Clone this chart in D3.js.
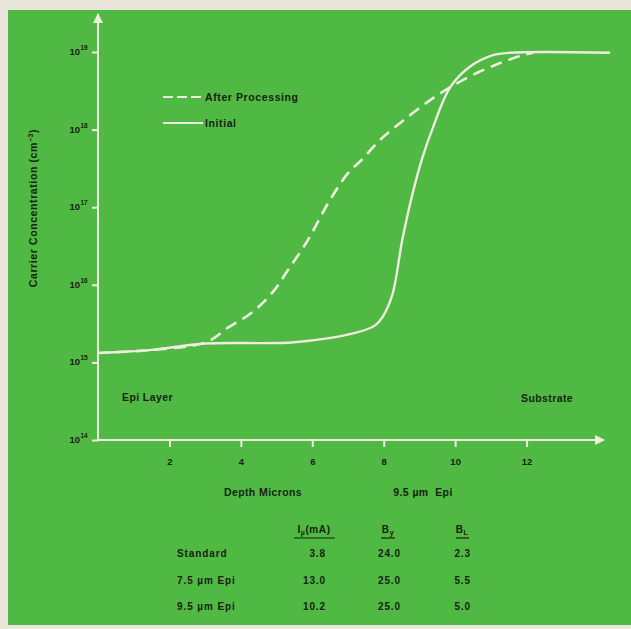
<!DOCTYPE html>
<html><head><meta charset="utf-8">
<script src="https://cdn.jsdelivr.net/npm/d3@7"></script>
<style>body{margin:0;background:#ebe6dc;}svg{display:block;}text{font-family:"Liberation Sans",Arial,sans-serif;fill:#18220f;}</style>
</head><body>
<svg id="c" width="631" height="629"></svg>
<script>
// ---- data ----
const initialDepth = [0, 1.5, 3.0, 5.5, 7.2, 7.76, 7.96, 8.24, 8.52, 8.8, 9.08, 9.38, 9.86, 10.42, 11.06, 11.54, 14.34];
const initialConc  = [1.32e15, 1.45e15, 1.75e15, 1.82e15, 2.4e15, 3.0e15, 3.8e15, 7.4e15, 3.8e16, 1.45e17, 4.3e17, 1.07e18, 3.5e18, 6.5e18, 9.1e18, 9.8e18, 9.8e18];
const afterDepth = [0, 1.5, 3.0, 3.64, 4.31, 4.87, 5.32, 5.88, 6.44, 7.0, 7.39, 7.9, 8.54, 9.3, 9.94, 10.62, 11.26, 11.82, 12.18];
const afterConc  = [1.32e15, 1.45e15, 1.8e15, 2.8e15, 4.4e15, 7.8e15, 1.55e16, 3.8e16, 1.12e17, 2.75e17, 4.1e17, 7.4e17, 1.3e18, 2.4e18, 3.7e18, 5.4e18, 7.2e18, 8.9e18, 9.8e18];
const xTicks = [2, 4, 6, 8, 10, 12];
const yTickExps = [14, 15, 16, 17, 18, 19];
const legendLabels = ["After Processing", "Initial"];
const tableRows = ["Standard", "7.5 \u00b5m Epi", "9.5 \u00b5m Epi"];
const colI = ["3.8", "13.0", "10.2"];
const colBy = ["24.0", "25.0", "25.0"];
const colBL = ["2.3", "5.5", "5.0"];

const svg = d3.select("#c");
const green = "#4fb944";
const lineCol = "#eeebdf";
const ink = "#18220f";

svg.append("rect").attr("x", 8).attr("y", 10).attr("width", 623).attr("height", 615).attr("fill", green);

const x = d3.scaleLinear().domain([0, 14]).range([98, 598]);
const y = d3.scaleLog().domain([1e14, 1e19]).range([440, 52]);

const defs = svg.append("defs");
defs.append("marker").attr("id", "arr").attr("viewBox", "0 0 10 10").attr("refX", 9).attr("refY", 5)
  .attr("markerWidth", 5).attr("markerHeight", 5).attr("orient", "auto")
  .append("path").attr("d", "M0,0L10,5L0,10z").attr("fill", lineCol);

svg.append("line").attr("x1", 98).attr("y1", 440).attr("x2", 98).attr("y2", 14)
  .attr("stroke", lineCol).attr("stroke-width", 2).attr("marker-end", "url(#arr)");
svg.append("line").attr("x1", 97).attr("y1", 440).attr("x2", 604).attr("y2", 440)
  .attr("stroke", lineCol).attr("stroke-width", 2).attr("marker-end", "url(#arr)");

// x axis ticks
const xAxis = d3.axisBottom(x).tickValues(xTicks).tickSize(7).tickPadding(11).tickFormat(d3.format("d"));
const gx = svg.append("g").attr("transform", "translate(0,440)").call(xAxis);
gx.select(".domain").remove();
gx.selectAll(".tick line").attr("stroke", lineCol).attr("stroke-width", 2);
gx.selectAll(".tick text").attr("font-size", 9.5).attr("font-weight", "bold").attr("fill", ink)
  .attr("font-family", "Liberation Sans, Arial, sans-serif");

// y axis ticks
const yAxis = d3.axisLeft(y).tickValues(yTickExps.map(e => Math.pow(10, e))).tickSize(6).tickFormat("");
const gy = svg.append("g").attr("transform", "translate(98,0)").call(yAxis);
gy.select(".domain").remove();
gy.selectAll(".tick line").attr("stroke", lineCol).attr("stroke-width", 2);
yTickExps.forEach(e => {
  svg.append("text").attr("x", 80).attr("y", y(Math.pow(10, e)) + 3)
    .attr("text-anchor", "end").attr("font-size", 9.5).attr("font-weight", "bold").text("10");
  svg.append("text").attr("x", 80.5).attr("y", y(Math.pow(10, e)) - 2)
    .attr("font-size", 6.5).attr("font-weight", "bold").text(e);
});

// axis titles
const yt = svg.append("text").attr("transform", "translate(37,208) rotate(-90)")
  .attr("text-anchor", "middle").attr("font-size", 10.5).attr("font-weight", "bold").attr("letter-spacing", 0.6);
yt.append("tspan").text("Carrier Concentration (cm");
yt.append("tspan").attr("font-size", 7).attr("dy", -4).text("\u22123");
yt.append("tspan").attr("dy", 4).text(")");

const lbl = (t, xx, yy, anchor) => svg.append("text").attr("x", xx).attr("y", yy)
  .attr("text-anchor", anchor || "start").attr("font-size", 10.5).attr("font-weight", "bold")
  .attr("letter-spacing", 0.4).attr("xml:space", "preserve").text(t);
lbl("Depth Microns", 263, 496, "middle");
lbl("9.5 \u00b5m  Epi", 423, 496, "middle");
lbl("Epi Layer", 122, 401);
lbl("Substrate", 521, 402);

// curves
const line = d3.line().x(d => x(d[0])).y(d => y(d[1])).curve(d3.curveCatmullRom.alpha(0.5));
const initData = initialDepth.map((d, i) => [d, initialConc[i]]);
const afterData = afterDepth.map((d, i) => [d, afterConc[i]]);

svg.append("path").datum(afterData).attr("d", line).attr("fill", "none")
  .attr("stroke", lineCol).attr("stroke-width", 2.6).attr("stroke-dasharray", "12,7");
svg.append("path").datum(initData).attr("d", line).attr("fill", "none")
  .attr("stroke", lineCol).attr("stroke-width", 2.4);

// legend
legendLabels.forEach((lab, i) => {
  const ly = 97 + i * 26;
  svg.append("line").attr("x1", 163).attr("x2", 203).attr("y1", ly).attr("y2", ly)
    .attr("stroke", lineCol).attr("stroke-width", 2.2)
    .attr("stroke-dasharray", i === 0 ? "10,4" : null);
  svg.append("text").attr("x", 205).attr("y", ly + 4).attr("font-size", 10.5).attr("font-weight", "bold")
    .attr("letter-spacing", 0.6).text(lab);
});

// table
const hdrY = 533;
const hdr = (xx) => svg.append("text").attr("x", xx).attr("y", hdrY).attr("text-anchor", "middle")
  .attr("font-size", 10).attr("font-weight", "bold").attr("letter-spacing", 0.6);
const ul = (x1, x2) => svg.append("line").attr("x1", x1).attr("x2", x2).attr("y1", hdrY + 5).attr("y2", hdrY + 5)
  .attr("stroke", ink).attr("stroke-width", 1.2);
const h1 = hdr(314);
h1.append("tspan").text("I");
h1.append("tspan").attr("font-size", 7).attr("dy", 2).text("\u00b5");
h1.append("tspan").attr("dy", -2).text("(mA)");
ul(294, 335);
const h2 = hdr(388);
h2.append("tspan").text("B");
h2.append("tspan").attr("font-size", 7).attr("dy", 2).text("y");
ul(381, 395);
const h3 = hdr(462);
h3.append("tspan").text("B");
h3.append("tspan").attr("font-size", 7).attr("dy", 2).text("L");
ul(456, 469);

tableRows.forEach((r, i) => {
  const ry = 557 + i * 26.5;
  const cell = (t, xx, a) => svg.append("text").attr("x", xx).attr("y", ry).attr("text-anchor", a)
    .attr("font-size", 10).attr("font-weight", "bold").attr("letter-spacing", 0.9).text(t);
  cell(r, 177, "start");
  cell(colI[i], 326, "end");
  cell(colBy[i], 401, "end");
  cell(colBL[i], 471, "end");
});
</script>
</body></html>
